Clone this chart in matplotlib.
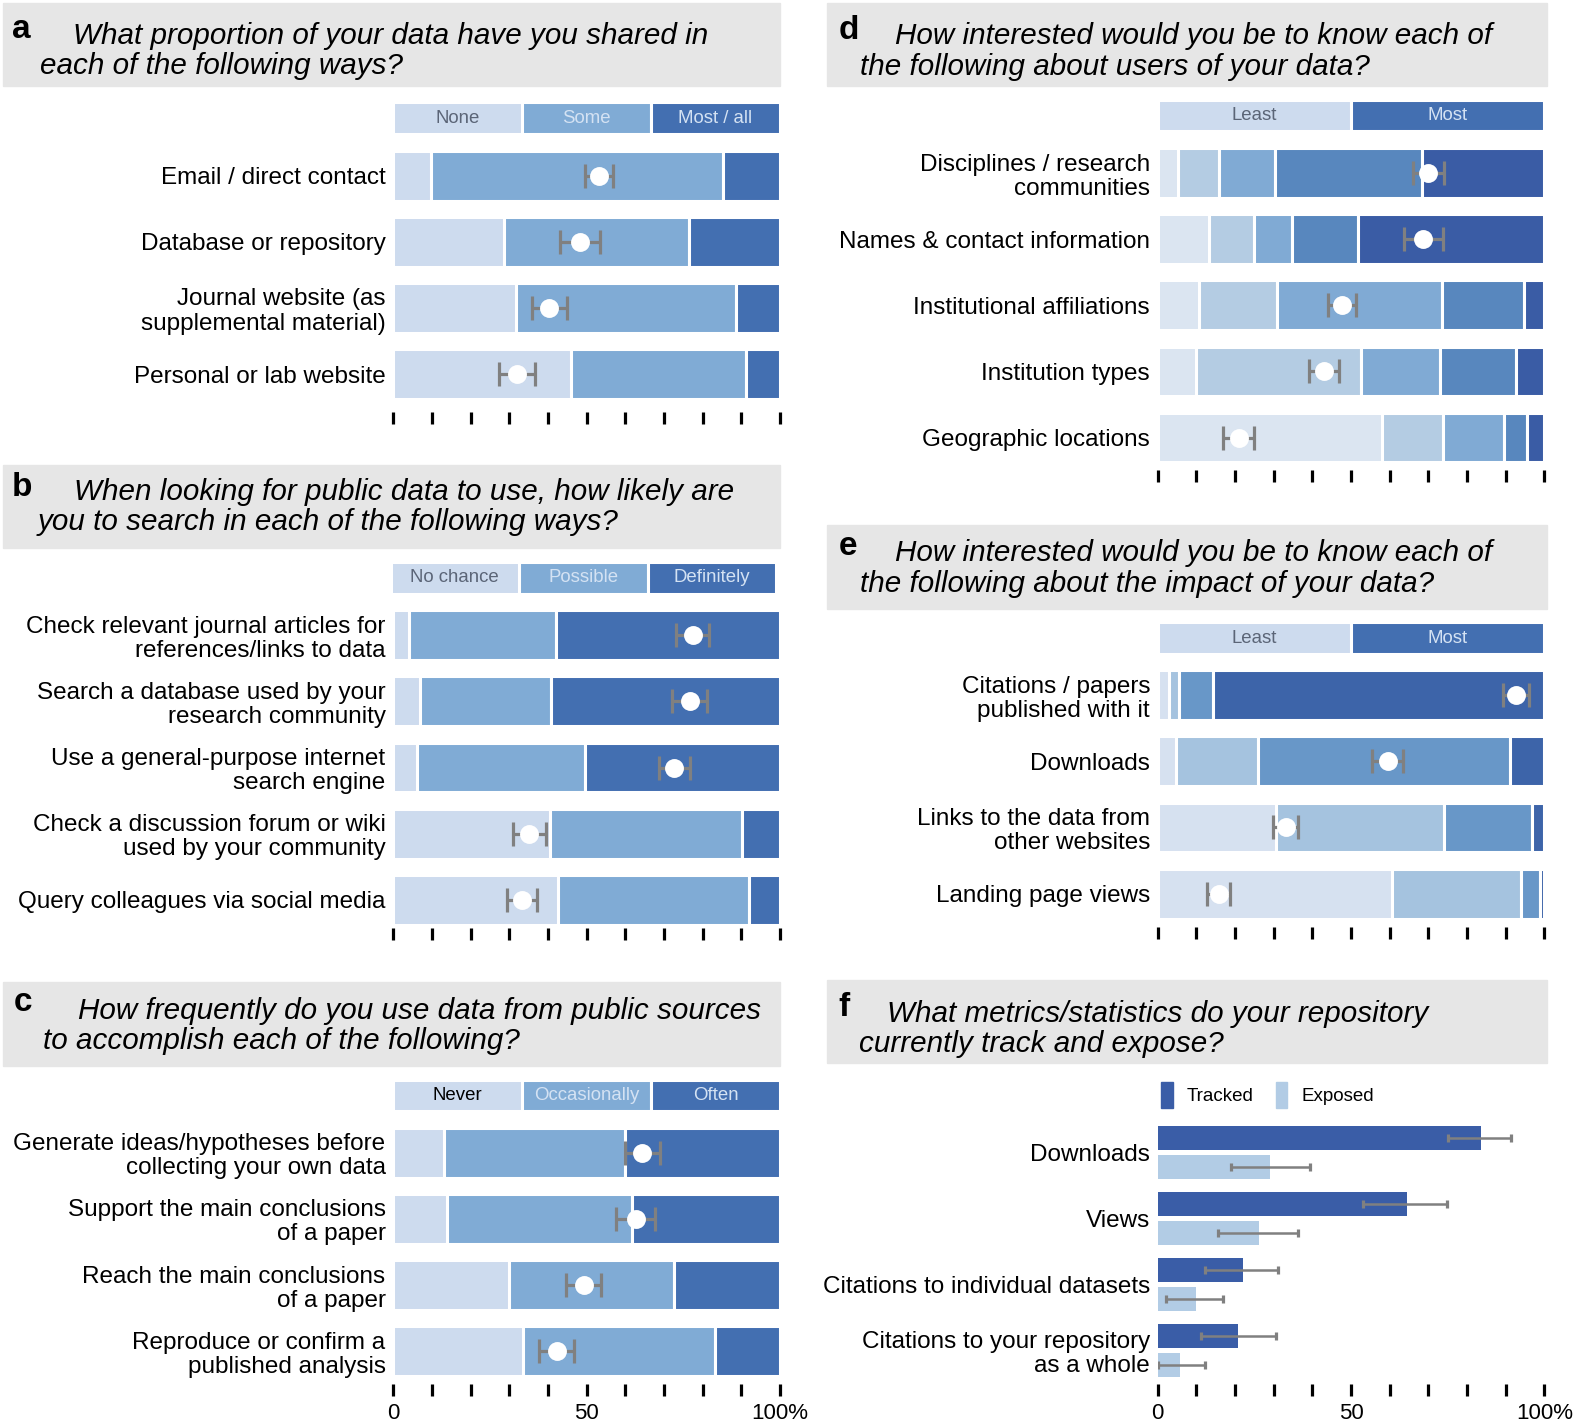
import numpy as np
import matplotlib
matplotlib.use("Agg")
import matplotlib.pyplot as plt
from matplotlib.patches import Rectangle, Patch

plt.rcParams['font.family'] = ['Liberation Sans', 'DejaVu Sans']

# ---------------- data (percent of respondents) ----------------
a_labels = ["Email / direct contact", "Database or repository",
            "Journal website (as\nsupplemental material)", "Personal or lab website"]
a_levels = ["None", "Some", "Most / all"]
a_none = [9.8, 28.7, 31.8, 46.0]
a_some = [75.4, 47.9, 56.8, 45.1]
a_most = [14.8, 23.4, 11.4, 8.9]
a_mean = [53.2, 48.2, 40.4, 32.0]
a_err = [3.6, 5.2, 4.5, 4.7]

b_labels = ["Check relevant journal articles for\nreferences/links to data",
            "Search a database used by your\nresearch community",
            "Use a general-purpose internet\nsearch engine",
            "Check a discussion forum or wiki\nused by your community",
            "Query colleagues via social media"]
b_levels = ["No chance", "Possible", "Definitely"]
b_none = [4.0, 6.9, 6.1, 40.5, 42.6]
b_poss = [38.1, 33.8, 43.6, 49.8, 49.5]
b_def = [57.9, 59.3, 50.3, 9.7, 7.9]
b_mean = [77.4, 76.7, 72.7, 35.2, 33.2]
b_err = [4.3, 4.5, 4.0, 4.3, 3.9]

c_labels = ["Generate ideas/hypotheses before\ncollecting your own data",
            "Support the main conclusions\nof a paper",
            "Reach the main conclusions\nof a paper",
            "Reproduce or confirm a\npublished analysis"]
c_levels = ["Never", "Occasionally", "Often"]
c_never = [13.2, 14.0, 29.9, 33.5]
c_occ = [46.7, 47.8, 42.8, 49.6]
c_often = [40.1, 38.2, 27.3, 16.9]
c_mean = [64.4, 62.7, 49.2, 42.3]
c_err = [4.6, 5.1, 4.6, 4.5]

d_labels = ["Disciplines / research\ncommunities", "Names & contact information",
            "Institutional affiliations", "Institution types", "Geographic locations"]
d_segs = [[5.2, 13.2, 10.6, 9.9, 58.1],
          [10.7, 11.7, 20.3, 42.8, 15.7],
          [14.5, 9.9, 42.7, 20.2, 15.8],
          [37.9, 16.9, 21.2, 19.7, 5.9],
          [31.7, 48.3, 5.2, 7.4, 4.5]]
d_mean = [70.0, 68.7, 47.6, 43.1, 21.0]
d_err = [4.0, 5.1, 3.6, 3.9, 4.0]

e_labels = ["Citations / papers\npublished with it", "Downloads",
            "Links to the data from\nother websites", "Landing page views"]
e_segs = [[2.9, 4.8, 30.5, 60.7],
          [2.7, 21.2, 43.5, 33.3],
          [8.7, 65.1, 22.8, 4.8],
          [85.7, 8.9, 3.2, 1.2]]
e_mean = [92.7, 59.5, 33.1, 15.8]
e_err = [3.4, 4.0, 3.3, 3.0]
de_levels = ["Least", "Most"]

f_labels = ["Downloads", "Views", "Citations to individual datasets",
            "Citations to your repository\nas a whole"]
f_tracked = [83.5, 64.4, 22.1, 20.8]
f_tracked_lo = [75.2, 53.0, 12.3, 11.3]
f_tracked_hi = [91.5, 74.7, 31.1, 30.5]
f_exposed = [29.0, 26.2, 9.9, 5.8]
f_exposed_lo = [18.9, 15.7, 2.2, 0.0]
f_exposed_hi = [39.3, 36.3, 17.0, 12.2]

# ---------------- style ----------------
C3 = ['#cddbee', '#80abd5', '#436fb1']
C5 = ['#dbe5f1', '#b4cce3', '#80aad4', '#5887be', '#3a5ca5']
C4 = ['#d6e1f0', '#a5c3df', '#6897c8', '#3d64a9']
TRACK, EXPOSE = '#3a5da7', '#b2cce5'
GREY_TXT, LIGHT_TXT = '#5b6577', '#d4e2f3'
ERR = '#808080'
LAB_FS = 17.5
TITLE_FS = 21.3

W, H = 1575, 1428
SC = 1575 / 1568   # layout below measured on a 1568-wide copy

fig = plt.figure(figsize=(W / 100, H / 100), dpi=100)


def fxy(x, y):
    return x * SC / W, 1 - y * SC / H


def title_box(x0, x1, y0, y1, letter, lpos, line1, p1, line2, p2):
    l, b = fxy(x0, y1)
    r, t = fxy(x1, y0)
    fig.add_artist(Rectangle((l, b), r - l, t - b, transform=fig.transFigure,
                             color='#e6e6e6', zorder=0))
    fig.text(*fxy(*lpos), letter, fontsize=24, fontweight='bold', va='baseline')
    fig.text(*fxy(p1[0], p1[1] + 2), line1, fontsize=TITLE_FS, style='italic', va='baseline')
    fig.text(*fxy(p2[0], p2[1] + 2), line2, fontsize=TITLE_FS, style='italic', va='baseline')


def make_ax(x0, x1, top, tick_top, c0, step, labels):
    l, b = fxy(x0, tick_top)
    r, t = fxy(x1, top)
    ax = fig.add_axes([l, b, r - l, t - b])
    ax.patch.set_alpha(0)
    ax.set_xlim(0, 100)
    ax.set_ylim((tick_top - c0) / step, (top - c0) / step)
    for s in ax.spines.values():
        s.set_visible(False)
    ax.set_xticks(np.arange(0, 101, 10))
    ax.set_xticklabels([])
    ax.tick_params(axis='x', direction='out', length=8.6, width=2.3, color='black')
    ax.set_yticks(np.arange(len(labels)), labels)
    ax.tick_params(axis='y', length=0, pad=5.5, labelsize=LAB_FS)
    for t in ax.get_yticklabels():
        t.set_linespacing(1.12)
    return ax


def header(ax, levels, colors, txtcolors, yc, h, step, shift=0):
    n = len(levels)
    w = 100 / n
    lefts = np.arange(n) * w + shift
    ax.barh([yc] * n, [w] * n, left=lefts, height=h / step, color=colors,
            edgecolor='white', linewidth=2.2)
    for i, lev in enumerate(levels):
        ax.text(lefts[i] + w / 2, yc, lev, ha='center', va='center',
                fontsize=13.4, color=txtcolors[i])


def stacked(ax, segs, colors, mean, err, step, h=49.5):
    rows = np.arange(len(segs[0]))
    cum = np.zeros(len(rows))
    for seg, col in zip(segs, colors):
        ax.barh(rows, seg, left=cum, height=h / step, color=col,
                edgecolor='white', linewidth=2.2)
        cum += np.array(seg)
    ax.errorbar(mean, rows, xerr=err, fmt='none', ecolor=ERR, elinewidth=2.3,
                capsize=8.3, capthick=2.3, zorder=3)
    ax.scatter(mean, rows, s=185, color='white', zorder=4, linewidths=0)


def pct_labels(ax):
    ax.set_xticklabels(['0', '', '', '', '', '50', '', '', '', '', '100%'])
    ax.tick_params(axis='x', labelsize=16, pad=5)


LX0, LX1 = 391.5, 776.5
RX0, RX1 = 1152.5, 1537.5

# ---- a ----
title_box(3, 777, 3, 86, 'a', (12, 38),
          "What proportion of your data have you shared in", (73, 42),
          "each of the following ways?", (40, 72))
ax = make_ax(LX0, LX1, 100, 410, 175, 65.8, a_labels)
header(ax, a_levels, C3, [GREY_TXT, LIGHT_TXT, LIGHT_TXT], (117.5 - 175) / 65.8, 31, 65.8)
stacked(ax, [a_none, a_some, a_most], C3, a_mean, a_err, 65.8)

# ---- b ----
title_box(3, 777, 463, 546, 'b', (12, 494),
          "When looking for public data to use, how likely are", (74, 496),
          "you to search in each of the following ways?", (38, 526))
ax = make_ax(LX0, LX1, 558, 924, 632.3, 65.9, b_labels)
header(ax, b_levels, C3, [GREY_TXT, LIGHT_TXT, LIGHT_TXT], (575.4 - 632.3) / 65.9, 31,
       65.9, shift=-0.9)
stacked(ax, [b_none, b_poss, b_def], C3, b_mean, b_err, 65.9)

# ---- c ----
title_box(3, 777, 978, 1061, 'c', (14, 1007),
          "How frequently do you use data from public sources", (78, 1012),
          "to accomplish each of the following?", (43, 1042))
ax = make_ax(LX0, LX1, 1073, 1378, 1147.7, 65.8, c_labels)
header(ax, c_levels, C3, ['black', LIGHT_TXT, LIGHT_TXT], (1090.6 - 1147.7) / 65.8, 31, 65.8)
stacked(ax, [c_never, c_occ, c_often], C3, c_mean, c_err, 65.8)
pct_labels(ax)

# ---- d ----
title_box(823, 1540, 3, 86, 'd', (835, 39),
          "How interested would you be to know each of", (891, 42),
          "the following about users of your data?", (856, 73))
ax = make_ax(RX0, RX1, 97, 468, 172.4, 65.8, d_labels)
header(ax, de_levels, [C3[0], C3[2]], [GREY_TXT, LIGHT_TXT], (115 - 172.4) / 65.8, 31, 65.8)
stacked(ax, d_segs, C5, d_mean, d_err, 65.8)

# ---- e ----
title_box(823, 1540, 523, 606, 'e', (835, 553),
          "How interested would you be to know each of", (891, 557),
          "the following about the impact of your data?", (856, 587))
ax = make_ax(RX0, RX1, 617, 923, 692, 65.9, e_labels)
header(ax, de_levels, [C3[0], C3[2]], [GREY_TXT, LIGHT_TXT], (635.2 - 692) / 65.9, 31, 65.9)
stacked(ax, e_segs, C4, e_mean, e_err, 65.9)

# ---- f ----
title_box(823, 1540, 976, 1058, 'f', (835, 1011),
          "What metrics/statistics do your repository", (883, 1015),
          "currently track and expose?", (855, 1045))
step = 65.8
ax = make_ax(RX0, RX1, 1070, 1378, 1147.2, step, f_labels)
rows = np.arange(len(f_labels))
off, bh = 14.4 / step, 24.3 / step
tv, ev = np.array(f_tracked), np.array(f_exposed)
ax.barh(rows - off, tv, height=bh, color=TRACK)
ax.barh(rows + off, ev, height=bh, color=EXPOSE)
ax.errorbar(tv, rows - off, xerr=[tv - np.array(f_tracked_lo), np.array(f_tracked_hi) - tv],
            fmt='none', ecolor=ERR, elinewidth=1.8, capsize=3, capthick=2.3, zorder=3)
ax.errorbar(ev, rows + off, xerr=[ev - np.array(f_exposed_lo), np.array(f_exposed_hi) - ev],
            fmt='none', ecolor=ERR, elinewidth=1.8, capsize=3, capthick=2.3, zorder=3)
pct_labels(ax)
handles = [Patch(color=TRACK, label='Tracked'), Patch(color=EXPOSE, label='Exposed')]
ax.legend(handles=handles, ncol=2, frameon=False, fontsize=13.5, loc='center left',
          bbox_to_anchor=(-0.01, (1378 - 1090) / (1378 - 1070)),
          handlelength=0.6, handleheight=1.75, handletextpad=0.75, columnspacing=1.2,
          borderaxespad=0)

fig.savefig("out.png", dpi=100)
